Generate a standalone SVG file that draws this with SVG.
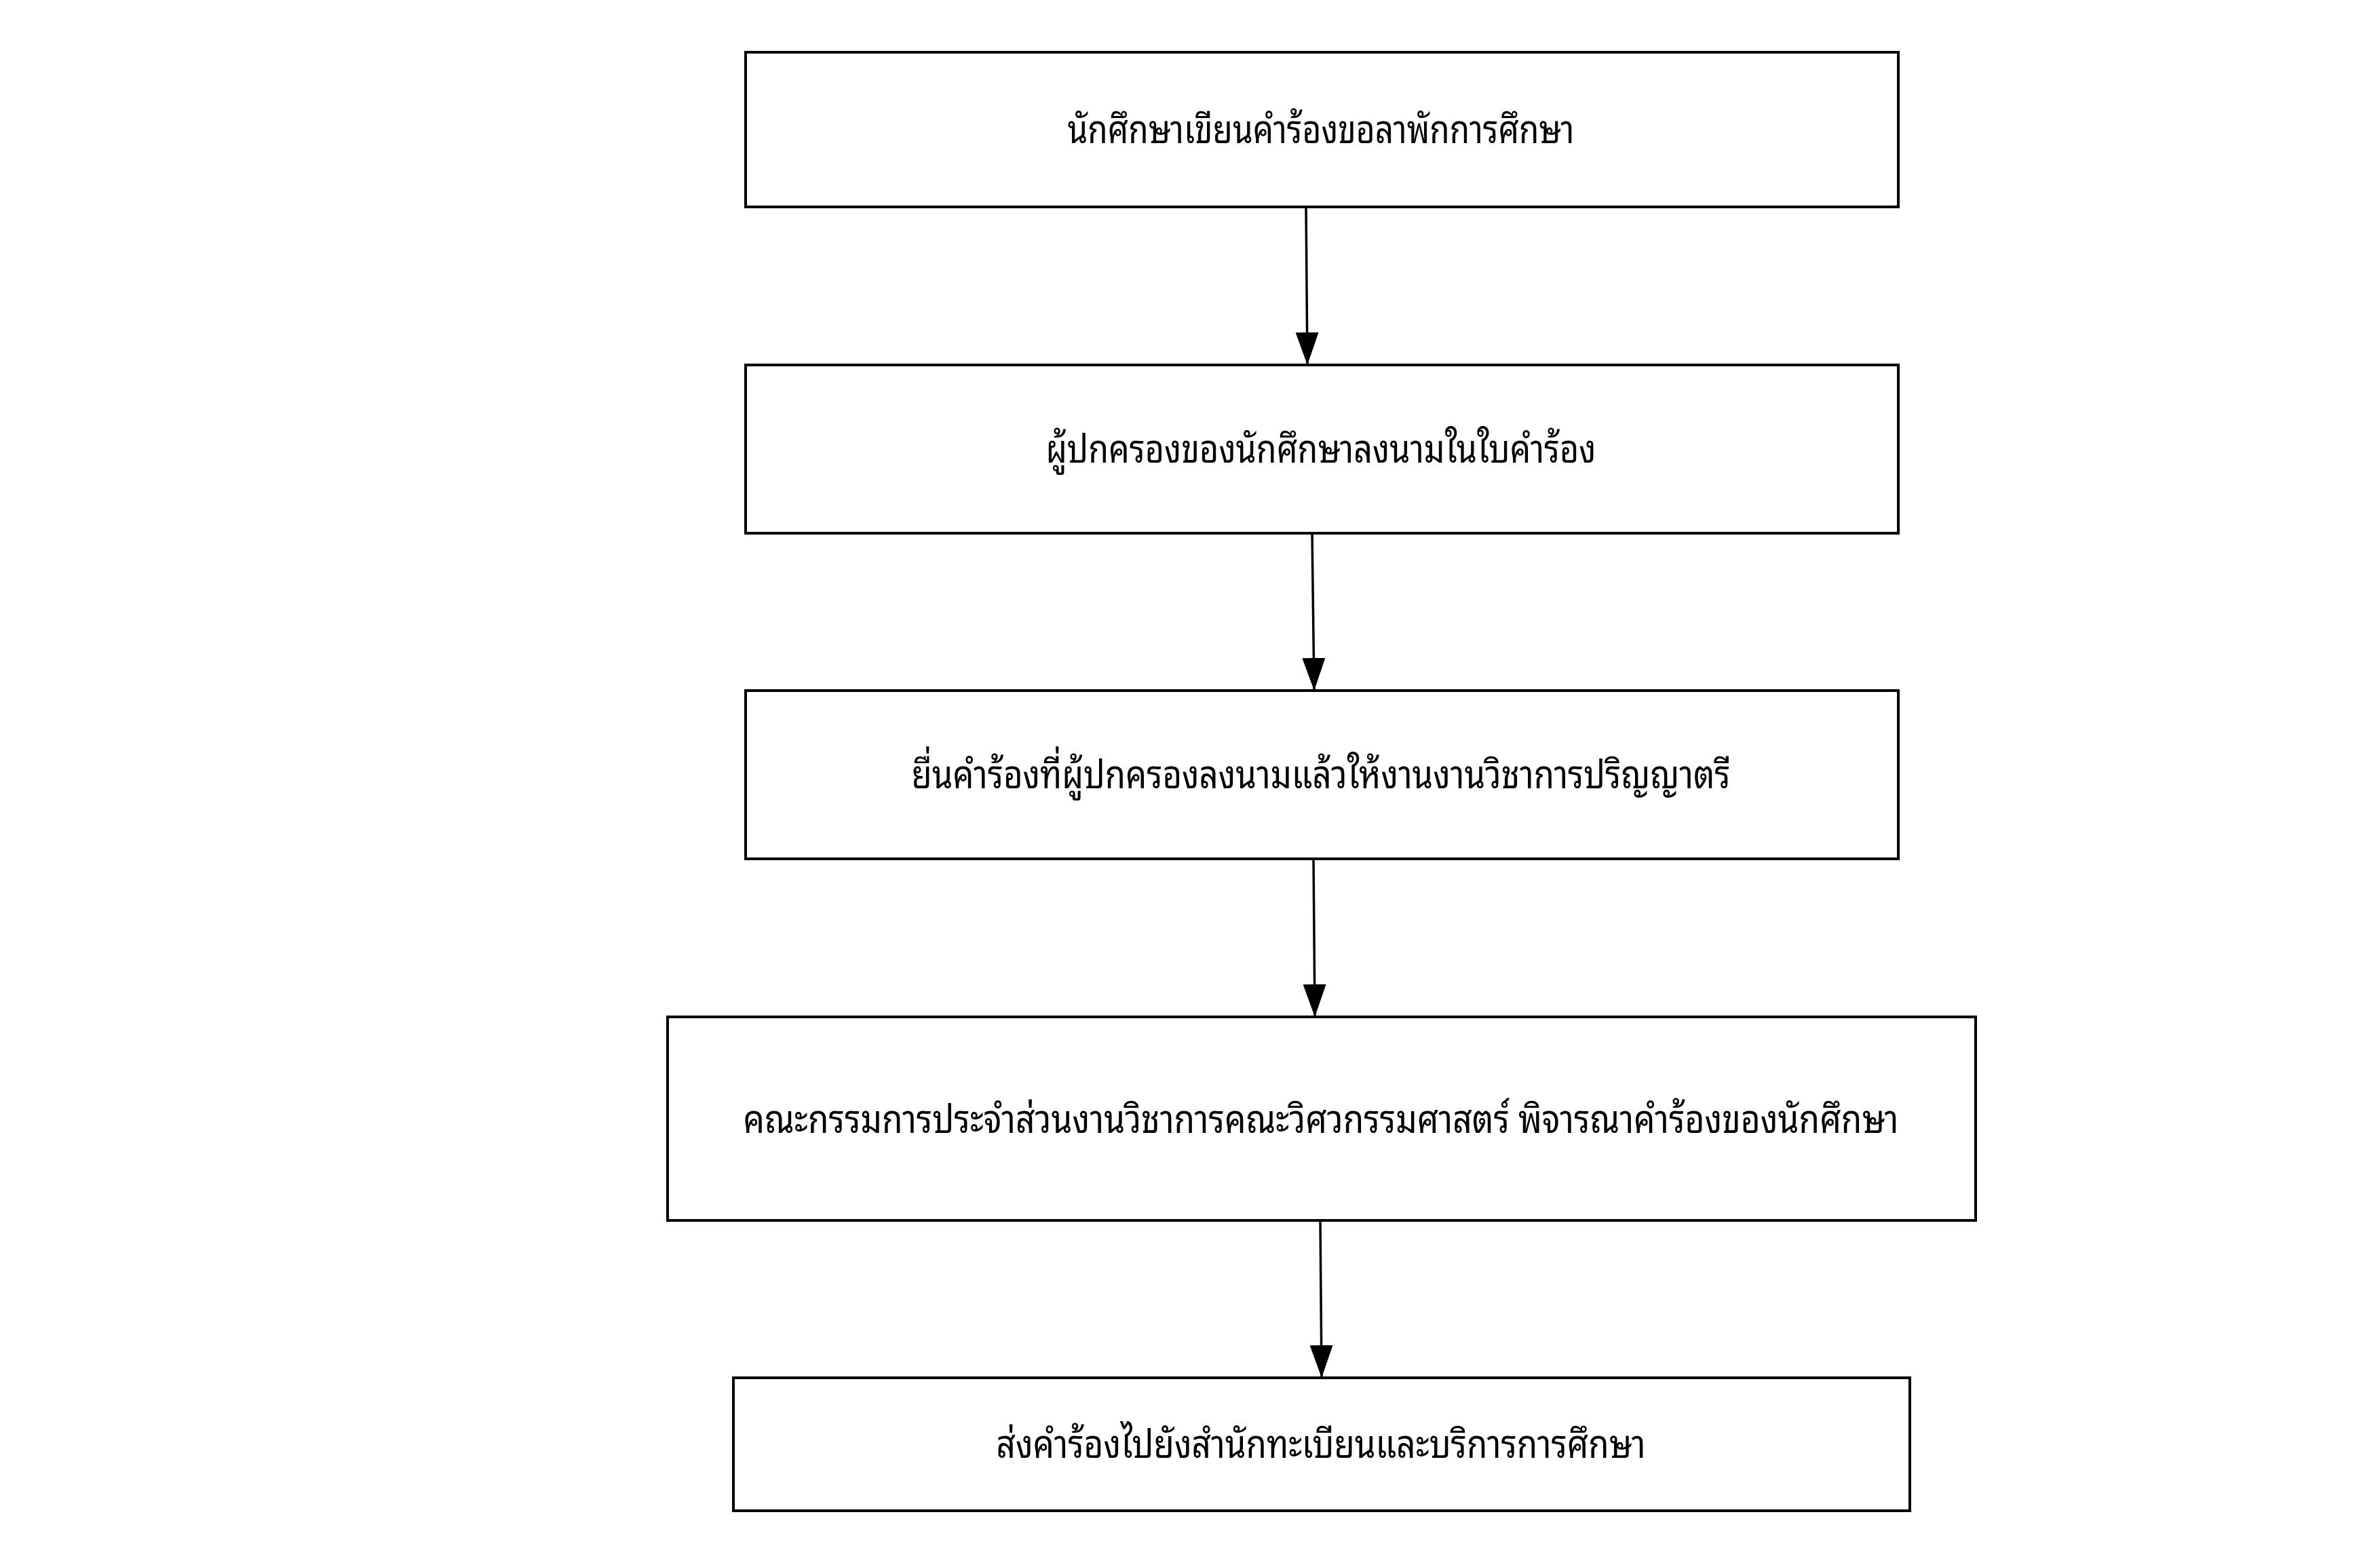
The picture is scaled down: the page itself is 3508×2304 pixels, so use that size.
<svg xmlns="http://www.w3.org/2000/svg" width="3508" height="2304" viewBox="0 0 3508 2304">
<style>
.box{fill:#ffffff;stroke:#000000;stroke-width:4}
.lbl{font-family:"Noto Sans Thai Looped","Noto Sans Thai","Noto Sans","DejaVu Sans",sans-serif;font-size:58px;fill:#000000;text-anchor:middle}
.edge{fill:none;stroke:#000000;stroke-width:3.5;marker-end:url(#arrow)}
</style>
<defs>
<marker id="arrow" markerUnits="userSpaceOnUse" markerWidth="48" markerHeight="34" viewBox="0 0 48 34" refX="48" refY="17" orient="auto">
<path d="M0,0 L48,17 L0,34 Z" fill="#000000"/>
</marker>
</defs>
<rect width="3508" height="2304" fill="#ffffff"/>
<g id="connectors">
<path class="edge" d="M1925,305 L1927,538"/>
<path class="edge" d="M1934,786 L1937,1018"/>
<path class="edge" d="M1936,1266 L1938,1499"/>
<path class="edge" d="M1946,1799 L1948,2031"/>
</g>
<g id="node1">
<rect class="box" x="1099" y="77" width="1699" height="228"/>
<text class="lbl" x="1947" y="211" textLength="747" lengthAdjust="spacingAndGlyphs">นักศึกษาเขียนคำร้องขอลาพักการศึกษา</text>
</g>
<g id="node2">
<rect class="box" x="1099" y="538" width="1699" height="248"/>
<text class="lbl" x="1947" y="682" textLength="811" lengthAdjust="spacingAndGlyphs">ผู้ปกครองของนักศึกษาลงนามในใบคำร้อง</text>
</g>
<g id="node3">
<rect class="box" x="1099" y="1018" width="1699" height="248"/>
<text class="lbl" x="1947" y="1162" textLength="1207" lengthAdjust="spacingAndGlyphs">ยื่นคำร้องที่ผู้ปกครองลงนามแล้วให้งานงานวิชาการปริญญาตรี</text>
</g>
<g id="node4">
<rect class="box" x="984" y="1499" width="1928" height="300"/>
<text class="lbl" x="1947" y="1670" textLength="1703" lengthAdjust="spacingAndGlyphs">คณะกรรมการประจำส่วนงานวิชาการคณะวิศวกรรมศาสตร์ พิจารณาคำร้องของนักศึกษา</text>
</g>
<g id="node5">
<rect class="box" x="1081" y="2031" width="1734" height="196"/>
<text class="lbl" x="1947" y="2149" textLength="957" lengthAdjust="spacingAndGlyphs">ส่งคำร้องไปยังสำนักทะเบียนและบริการการศึกษา</text>
</g>
</svg>
